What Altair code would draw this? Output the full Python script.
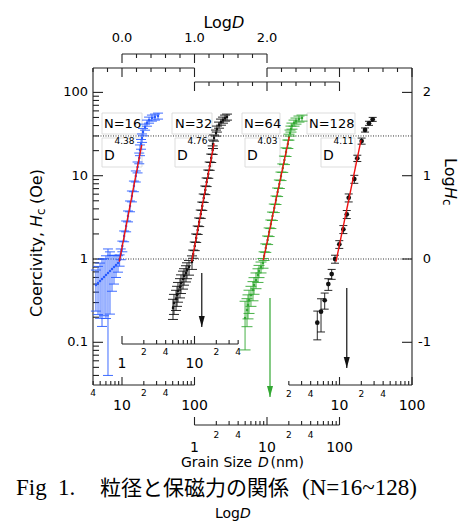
import numpy as np
import pandas as pd
import altair as alt

# ---------------- data ----------------
SERIES = ["N=16", "N=32", "N=64", "N=128"]
EXPONENTS = ["4.38", "4.76", "4.03", "4.11"]

N16_D = [31.4, 28.5, 25.9, 23.6, 22.1, 20.8, 19.5, 18.9, 18.3,
         17.7, 17.3, 16.4, 15.5, 14.6, 13.7, 12.9, 12.1, 11.4, 10.7, 10.1, 9.62,
         9.27, 8.81, 8.27, 7.76, 7.28, 6.83, 6.41, 6.01, 5.65, 5.30, 4.98, 4.67, 4.37]
N16_HC = [52.1, 50.7, 49.3, 46.6, 42.9, 38.4, 33.5, 28.4, 24.0,
          20.4, 16.3, 12.7, 9.9, 7.52, 5.70, 4.33, 3.28, 2.49, 1.89, 1.43, 1.15,
          0.97, 0.895, 0.85, 0.80, 0.76, 0.718, 0.68, 0.643, 0.608, 0.575, 0.544, 0.515, 0.487]
N16_ERR = [4.3, 4.2, 4.1, 3.9, 3.6, 3.2, 3.4, 3.3, 3.2,
           3.0, 2.4, 1.9, 1.5, 1.1, 0.85, 0.64, 0.49, 0.37, 0.28, 0.21, 0.17,
           0.15, 0.2, 0.25, 0.3, 0.35, 0.5, 0.64, 0.45, 0.4, 0.42, 0.35, 0.3, 0.25]

N32_D = [28.1, 26.4, 24.7, 23.2, 21.8, 20.4, 19.8, 18.6,
         18.0, 17.8, 17.0, 16.2, 15.5, 14.7, 14.1, 13.4, 12.8, 12.2, 11.6, 11.07, 10.55, 10.07, 9.60,
         9.24, 8.40, 7.88, 7.63, 7.17, 6.94, 6.51, 6.31, 5.92, 5.74, 5.56, 5.21, 5.05]
N32_HC = [50.7, 49.3, 46.6, 44.1, 40.6, 36.4, 32.6, 28.4,
          24.0, 20.4, 16.3, 13.1, 10.5, 8.40, 6.73, 5.40, 4.33, 3.47, 2.78, 2.23, 1.79, 1.43, 1.15,
          0.92, 0.80, 0.74, 0.68, 0.625, 0.575, 0.515, 0.461, 0.413, 0.370, 0.331, 0.296, 0.258]
N32_ERR = [4.2, 4.1, 3.9, 3.7, 3.4, 3.0, 2.7, 2.4,
           2.8, 2.4, 1.9, 1.5, 1.2, 1.0, 0.8, 0.63, 0.5, 0.4, 0.33, 0.26, 0.21, 0.17, 0.13,
           0.17, 0.16, 0.16, 0.15, 0.14, 0.14, 0.13, 0.12, 0.11, 0.10, 0.09, 0.08, 0.07]

N64_D = [30.4, 27.6, 25.1, 23.6, 22.1, 21.4, 20.8, 20.1,
         19.4, 18.3, 17.4, 16.5, 15.6, 14.8, 14.0, 13.3, 12.6, 11.9, 11.3, 10.7, 10.2, 9.62, 9.12,
         8.81, 8.27, 7.76, 7.51, 7.05, 6.62, 6.41, 6.01, 5.65, 5.47, 5.30, 4.98]
N64_HC = [49.3, 48.0, 45.4, 42.9, 39.5, 36.4, 32.6, 29.1,
          24.0, 19.3, 15.4, 12.4, 9.9, 7.95, 6.37, 5.11, 4.09, 3.28, 2.63, 2.11, 1.69, 1.36, 1.09,
          0.895, 0.80, 0.718, 0.643, 0.56, 0.487, 0.425, 0.370, 0.322, 0.281, 0.244, 0.196]
N64_ERR = [4.1, 4.0, 3.8, 3.6, 3.3, 3.0, 2.7, 2.4,
           2.8, 2.3, 1.8, 1.45, 1.16, 0.93, 0.75, 0.6, 0.48, 0.38, 0.31, 0.25, 0.2, 0.16, 0.13,
           0.12, 0.12, 0.12, 0.12, 0.12, 0.11, 0.11, 0.10, 0.10, 0.09, 0.09, 0.115]

N128_D = [28.7, 25.5, 22.5, 20.2, 17.6, 16.0, 13.4, 12.6, 11.3, 9.94, 8.67, 7.80, 7.01, 6.25, 5.56, 4.94]
N128_HC = [47.5, 42.6, 35.4, 26.1, 16.2, 9.1, 5.44, 3.44, 2.27, 1.50, 1.00, 0.66, 0.50, 0.32, 0.233, 0.172]
N128_ERR = [2.6, 2.4, 2.0, 2.2, 1.4, 1.0, 0.6, 0.38, 0.25, 0.16, 0.11, 0.09, 0.08, 0.07, 0.10, 0.065]

FIT_D_START = [9.18, 9.15, 8.89, 8.95]
FIT_HC_START = [0.93, 0.93, 0.97, 0.93]
FIT_D_END = [18.7, 18.6, 20.3, 19.8]
FIT_HC_END = [23.4, 24.5, 29.4, 26.8]

ARROW_SERIES = ["N=32", "N=64", "N=128"]
ARROW_D = [12.6, 11.0, 12.6]
ARROW_HC_FROM = [0.68, 0.34, 0.449]
ARROW_HC_TO = [0.153, 0.022, 0.049]

REF_HC = [1.0, 30.0]
LEFT_TICKS = [0.1, 1, 10, 100]
LEFT_LABELS = ["0.1", "1", "10", "100"]
RIGHT_TICKS = [-1, 0, 1, 2]
RIGHT_LABELS = ["-1", "0", "1", "2"]
LOGD_TICKS = [0.0, 1.0, 2.0]
LOGD_LABELS = ["0.0", "1.0", "2.0"]
MINOR_LABEL_VALUES = [2, 4, 20, 40]
D_AXIS_RANGE = {"N=16": (4, 100), "N=32": (1, 40), "N=64": (1, 100), "N=128": (2, 100)}

CAPTION_FIG = "Fig"
CAPTION_NUM = "1."
CAPTION_CJK = "粒径と保磁力の関係"
CAPTION_TAIL = "(N=16~128)"

# ---------------- layout / style ----------------
W, H = 471, 521
X0_PX, XDEC = 122.0, 72.5      # pixel of LogD = 0 and pixels per decade (x)
Y0_PX, YDEC = 259.0, 83.3      # pixel of Hc = 1 and pixels per decade (y)


def X_of(px):
    return (px - X0_PX) / XDEC


def L_of(py):
    return (Y0_PX - py) / YDEC


XS = alt.Scale(domain=[X_of(0), X_of(W)], nice=False, zero=False)
YS = alt.Scale(domain=[L_of(H), L_of(0)], nice=False, zero=False)

SANS = "DejaVu Sans"
SERIF = "Liberation Serif"
CJK = "Noto Sans CJK JP"

OFFSET = {"N=16": -1.0, "N=32": 0.0, "N=64": 1.0, "N=128": 2.0}
COLOR = {"N=16": "#2a5cff", "N=32": "#111111", "N=64": "#33a833", "N=128": "#111111"}
CAP_PX = {"N=16": 5, "N=32": 5, "N=64": 5.5, "N=128": 4}
MSIZE = {"N=16": 6, "N=32": 6, "N=64": 6, "N=128": 22}
FRAME_X = (-0.4, 4.0)
FRAME_TOP_PX, FRAME_BOTTOM_PX = 68, 385
AXIS_ROW_PX = {"N=16": 385, "N=32": 344, "N=64": 425, "N=128": 385}
MINOR_LAB_DY = {"N=16": 8, "N=32": 8, "N=64": 10, "N=128": 9}
MAJOR_LAB_DY = {"N=16": 21, "N=32": 20, "N=64": 23, "N=128": 21}
LABEL_LEFT_PX = {"N=16": 104, "N=32": 175, "N=64": 244, "N=128": 309}
DLAB_LEFT_PX = {"N=16": 104, "N=32": 177, "N=64": 247, "N=128": 323}
BOX_N_PX = {"N=16": (102, 142), "N=32": (172, 212), "N=64": (242, 280), "N=128": (307, 355)}
BOX_D_PX = {"N=16": (102, 142), "N=32": (175, 212), "N=64": (245, 280), "N=128": (321, 355)}

xq = lambda f: alt.X(f, type="quantitative", scale=XS, axis=None)
yq = lambda f: alt.Y(f, type="quantitative", scale=YS, axis=None)

# ---------------- data frames ----------------
SERIES_DATA = {"N=16": (N16_D, N16_HC, N16_ERR), "N=32": (N32_D, N32_HC, N32_ERR),
               "N=64": (N64_D, N64_HC, N64_ERR), "N=128": (N128_D, N128_HC, N128_ERR)}
pts, caps = [], []
for s in SERIES:
    Ds, Hs, Es = SERIES_DATA[s]
    for d, h, e in zip(Ds, Hs, Es):
        X = np.log10(d) + OFFSET[s]
        llo = np.log10(max(h - e, 0.02))
        lhi = np.log10(h + e)
        pts.append(dict(series=s, X=X, L=np.log10(h), Llo=llo, Lhi=lhi, color=COLOR[s], msize=MSIZE[s]))
        hw = CAP_PX[s] / XDEC
        for ly in (llo, lhi):
            caps.append(dict(X1=X - hw, X2=X + hw, L1=ly, color=COLOR[s]))
pts = pd.DataFrame(pts)
caps = pd.DataFrame(caps)

fits = pd.DataFrame(dict(
    X1=[np.log10(d) + OFFSET[s] for d, s in zip(FIT_D_START, SERIES)],
    X2=[np.log10(d) + OFFSET[s] for d, s in zip(FIT_D_END, SERIES)],
    L1=np.log10(FIT_HC_START), L2=np.log10(FIT_HC_END)))

arrows = pd.DataFrame(dict(
    X=[np.log10(d) + OFFSET[s] for d, s in zip(ARROW_D, ARROW_SERIES)],
    L1=np.log10(ARROW_HC_FROM), L2=np.log10(ARROW_HC_TO),
    color=[COLOR[s] for s in ARROW_SERIES]))

refs = pd.DataFrame(dict(X1=FRAME_X[0], X2=FRAME_X[1], L1=np.log10(REF_HC)))

# axis line segments
segs = []


def seg(x1, l1, x2, l2):
    segs.append(dict(X1=x1, L1=l1, X2=x2, L2=l2))


ltop, lbot = L_of(FRAME_TOP_PX), L_of(FRAME_BOTTOM_PX)
seg(FRAME_X[0], ltop, FRAME_X[0], lbot)
seg(FRAME_X[1], ltop, FRAME_X[1], lbot)
for dec in range(-2, 3):
    for k in range(1, 10):
        v = np.log10(k) + dec
        if lbot - 1e-6 <= v <= ltop + 1e-6:
            ln = 10 if k == 1 else 6
            seg(FRAME_X[0], v, FRAME_X[0] + ln / XDEC, v)
for v in RIGHT_TICKS:
    seg(FRAME_X[1], v, FRAME_X[1] - 10 / XDEC, v)


def top_row(ypx, xa, xb):
    ly = L_of(ypx)
    seg(xa, ly, xb, ly)
    for t in np.round(np.arange(xa, xb + 1e-9, 0.2), 6):
        ln = 9 if abs(t - round(t)) < 1e-6 else 4
        seg(t, ly, t, L_of(ypx + ln))


top_row(54, 0.0, 2.0)
top_row(68, -0.4, 1.0)
top_row(68, 2.0, 4.0)
top_row(82, 1.0, 3.0)

for s in SERIES:
    lo, hi = D_AXIS_RANGE[s]
    ypx = AXIS_ROW_PX[s]
    ly = L_of(ypx)
    seg(np.log10(lo) + OFFSET[s], ly, np.log10(hi) + OFFSET[s], ly)
    for dec in range(0, 3):
        for k in range(1, 10):
            d = k * 10 ** dec
            if lo * 0.999 <= d <= hi * 1.001:
                ln = 8 if k == 1 else 4
                xx = np.log10(d) + OFFSET[s]
                seg(xx, ly, xx, L_of(ypx - ln))
segs = pd.DataFrame(segs)

boxes = []
for s in SERIES:
    a, b = BOX_N_PX[s]
    boxes.append(dict(X1=X_of(a), X2=X_of(b), L1=L_of(113), L2=L_of(134)))
    a, b = BOX_D_PX[s]
    boxes.append(dict(X1=X_of(a), X2=X_of(b), L1=L_of(138), L2=L_of(167)))
boxes = pd.DataFrame(boxes)

# ---------------- layers ----------------
layers = []


def rule_layer(df, **props):
    enc = dict(x=xq("X1"), x2="X2:Q", y=yq("L1"))
    if "L2" in df.columns:
        enc["y2"] = "L2:Q"
    if "color" in df.columns:
        enc["color"] = alt.Color("color:N", scale=None)
    return alt.Chart(df).mark_rule(**props).encode(**enc)


def text_layer(rows, size, align="center", baseline="middle", angle=0, style="normal", font=SANS, color="black"):
    df = pd.DataFrame(rows, columns=["X", "L", "t"])
    props = dict(fontSize=size, align=align, baseline=baseline, fontStyle=style, font=font, color=color)
    if angle:
        props["angle"] = angle
    return alt.Chart(df).mark_text(**props).encode(x=xq("X"), y=yq("L"), text="t:N")


layers.append(alt.Chart(boxes).mark_rect(fill="white", stroke="#d4d4d4", strokeWidth=0.8).encode(
    x=xq("X1"), x2="X2:Q", y=yq("L1"), y2="L2:Q"))
layers.append(rule_layer(refs, color="#333333", strokeWidth=1, strokeDash=[1, 1.5]))
layers.append(rule_layer(segs, color="#222222", strokeWidth=1.1))
layers.append(alt.Chart(pts).mark_rule(strokeWidth=0.9).encode(
    x=xq("X"), y=yq("Llo"), y2="Lhi:Q", color=alt.Color("color:N", scale=None)))
layers.append(rule_layer(caps, strokeWidth=0.9))
layers.append(alt.Chart(pts).mark_point(filled=True, opacity=1, shape="circle").encode(
    x=xq("X"), y=yq("L"), color=alt.Color("color:N", scale=None), size=alt.Size("msize:Q", scale=None)))
layers.append(rule_layer(fits, color="#ee1111", strokeWidth=1.4))
layers.append(alt.Chart(arrows).mark_rule(strokeWidth=1.2).encode(
    x=xq("X"), y=yq("L1"), y2="L2:Q", color=alt.Color("color:N", scale=None)))
layers.append(alt.Chart(arrows).mark_point(filled=True, opacity=1, size=100,
                                           shape="M-0.6,-2.2L0.6,-2.2L0,0Z").encode(
    x=xq("X"), y=yq("L2"), color=alt.Color("color:N", scale=None)))

# axis labels
layers.append(text_layer([(X_of(88), np.log10(v), t) for v, t in zip(LEFT_TICKS, LEFT_LABELS)], 13, align="right"))
layers.append(text_layer([(X_of(431), v, t) for v, t in zip(RIGHT_TICKS, RIGHT_LABELS)], 13, align="right"))
layers.append(text_layer([(v, L_of(38), t) for v, t in zip(LOGD_TICKS, LOGD_LABELS)], 13))
layers.append(text_layer([(X_of(232), L_of(23), "Log")], 16, align="right"))
layers.append(text_layer([(X_of(232), L_of(23), "D")], 16, align="left", style="italic"))

minor_rows, major_rows = [], []
for s in SERIES:
    lo, hi = D_AXIS_RANGE[s]
    ypx = AXIS_ROW_PX[s]
    for d in MINOR_LABEL_VALUES:
        if lo <= d <= hi:
            minor_rows.append((np.log10(d) + OFFSET[s], L_of(ypx + MINOR_LAB_DY[s]), str(d)[0]))
    for dec in range(0, 3):
        d = 10 ** dec
        if lo <= d <= hi:
            major_rows.append((np.log10(d) + OFFSET[s], L_of(ypx + MAJOR_LAB_DY[s]), str(d)))
layers.append(text_layer(minor_rows, 9))
layers.append(text_layer(major_rows, 14))

# axis titles
layers.append(text_layer([(X_of(181), L_of(463), "Grain Size")], 14, align="left"))
layers.append(text_layer([(X_of(258), L_of(463), "D")], 14, align="left", style="italic"))
layers.append(text_layer([(X_of(270.5), L_of(463), "(nm)")], 14, align="left"))

layers.append(text_layer([(X_of(37), L_of(317), "Coercivity,")], 16, align="left", angle=270))
layers.append(text_layer([(X_of(37), L_of(227), "H")], 16, align="left", angle=270, style="italic"))
layers.append(text_layer([(X_of(40.5), L_of(215), "c")], 12, align="left", angle=270))
layers.append(text_layer([(X_of(37), L_of(204), "(Oe)")], 16, align="left", angle=270))

layers.append(text_layer([(X_of(450), L_of(158), "Log")], 16, align="left", angle=90))
layers.append(text_layer([(X_of(450), L_of(187), "H")], 16, align="left", angle=90, style="italic"))
layers.append(text_layer([(X_of(447), L_of(199), "c")], 12, align="left", angle=90))

# series annotations
layers.append(text_layer([(X_of(LABEL_LEFT_PX[s]), L_of(124), s) for s in SERIES], 13, align="left"))
layers.append(text_layer([(X_of(DLAB_LEFT_PX[s]), L_of(156), "D") for s in SERIES], 14, align="left"))
layers.append(text_layer([(X_of(DLAB_LEFT_PX[s] + 10.5), L_of(141), e) for s, e in zip(SERIES, EXPONENTS)], 9,
                         align="left"))

# caption
layers.append(text_layer([(X_of(16), L_of(495), CAPTION_FIG)], 23, align="left", baseline="alphabetic",
                         font=SERIF))
layers.append(text_layer([(X_of(58), L_of(495), CAPTION_NUM)], 23, align="left", baseline="alphabetic",
                         font=SERIF))
layers.append(text_layer([(X_of(100), L_of(495), CAPTION_CJK)], 21, align="left", baseline="alphabetic",
                         font=CJK))
layers.append(text_layer([(X_of(302), L_of(495), CAPTION_TAIL)], 23, align="left", baseline="alphabetic",
                         font=SERIF))
layers.append(text_layer([(X_of(240), L_of(514), "Log")], 14, align="right"))
layers.append(text_layer([(X_of(240), L_of(514), "D")], 14, align="left", style="italic"))

chart = alt.layer(*layers).properties(
    width=W, height=H, padding=0, autosize="none", background="white"
).configure_view(stroke=None)

chart.save("out.html", embed_options={"renderer": "svg", "actions": False})
